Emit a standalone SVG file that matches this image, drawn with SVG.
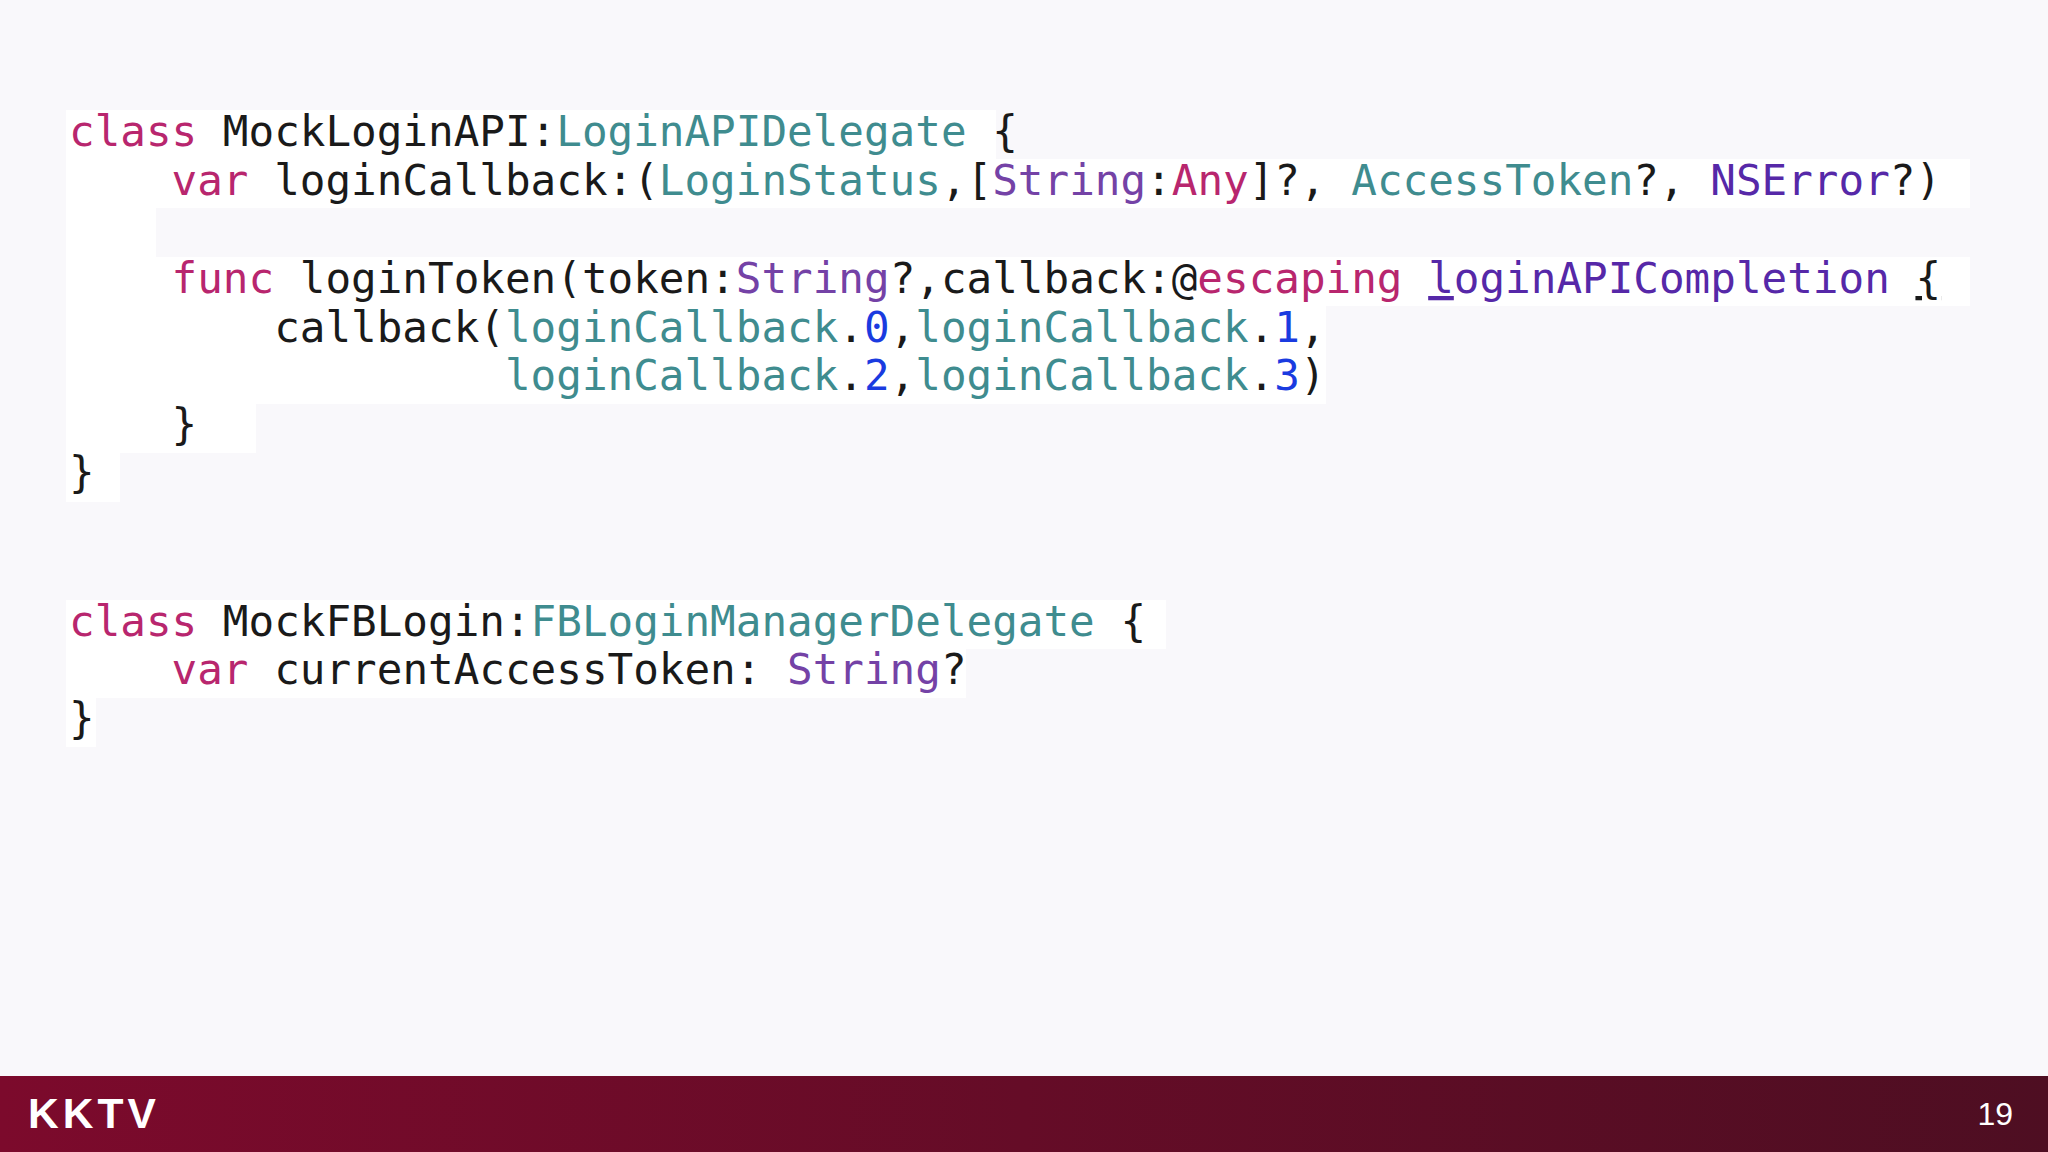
<svg xmlns="http://www.w3.org/2000/svg" width="2048" height="1152" viewBox="0 0 2048 1152">
<defs>
<linearGradient id="ft" x1="0" y1="0" x2="1" y2="0">
<stop offset="0" stop-color="#7c0a2c"/><stop offset="1" stop-color="#4e0e22"/>
</linearGradient>
<style>
.c{font-family:"DejaVu Sans Mono","Liberation Mono",monospace;font-size:42.6px;fill:#1a1a1a;white-space:pre}
.k{fill:#b8266e}.t{fill:#3f8c8f}.s{fill:#7442a6}.n{fill:#5628a8}.d{fill:#1a3be0}
.hl{fill:#ffffff}
</style>
</defs>
<rect width="2048" height="1152" fill="#f9f8fb"/>
<g id="highlights">
<rect class="hl" x="66" y="110" width="930" height="49"/>
<rect class="hl" x="66" y="159" width="1904" height="49"/>
<rect class="hl" x="66" y="208" width="90" height="49"/>
<rect class="hl" x="66" y="257" width="1904" height="49"/>
<rect class="hl" x="66" y="306" width="1260" height="49"/>
<rect class="hl" x="66" y="355" width="1260" height="49"/>
<rect class="hl" x="66" y="404" width="190" height="49"/>
<rect class="hl" x="66" y="453" width="54" height="49"/>
<rect class="hl" x="66" y="600" width="1100" height="49"/>
<rect class="hl" x="66" y="649" width="900" height="49"/>
<rect class="hl" x="66" y="698" width="30" height="49"/>
</g>
<g id="code1">
<text class="c" x="69" y="146"><tspan class="k">class</tspan> MockLoginAPI:<tspan class="t">LoginAPIDelegate</tspan> {</text>
<text class="c" x="69" y="195">    <tspan class="k">var</tspan> loginCallback:(<tspan class="t">LoginStatus</tspan>,[<tspan class="s">String</tspan>:<tspan class="k">Any</tspan>]?, <tspan class="t">AccessToken</tspan>?, <tspan class="n">NSError</tspan>?)</text>
<text class="c" x="69" y="293">    <tspan class="k">func</tspan> loginToken(token:<tspan class="s">String</tspan>?,callback:@<tspan class="k">escaping</tspan> <tspan class="n" text-decoration="underline">l</tspan><tspan class="n">oginAPICompletion</tspan> <tspan text-decoration="underline">{</tspan></text>
<text class="c" x="69" y="342">        callback(<tspan class="t">loginCallback</tspan>.<tspan class="d">0</tspan>,<tspan class="t">loginCallback</tspan>.<tspan class="d">1</tspan>,</text>
<text class="c" x="69" y="390">                 <tspan class="t">loginCallback</tspan>.<tspan class="d">2</tspan>,<tspan class="t">loginCallback</tspan>.<tspan class="d">3</tspan>)</text>
<text class="c" x="69" y="439">    }</text>
<text class="c" x="69" y="487">}</text>
</g>
<g id="code2">
<text class="c" x="69" y="636"><tspan class="k">class</tspan> MockFBLogin:<tspan class="t">FBLoginManagerDelegate</tspan> {</text>
<text class="c" x="69" y="684">    <tspan class="k">var</tspan> currentAccessToken: <tspan class="s">String</tspan>?</text>
<text class="c" x="69" y="733">}</text>
</g>
<g id="footer">
<rect x="0" y="1076" width="2048" height="76" fill="url(#ft)"/>
<text x="28" y="1128" font-family="Liberation Sans, Arial, sans-serif" font-weight="bold" font-size="42" fill="#fff" letter-spacing="4" textLength="132" lengthAdjust="spacingAndGlyphs">KKTV</text>
<text x="2013" y="1125" text-anchor="end" font-family="Liberation Sans, Arial, sans-serif" font-size="32" fill="#fff">19</text>
</g>
</svg>
